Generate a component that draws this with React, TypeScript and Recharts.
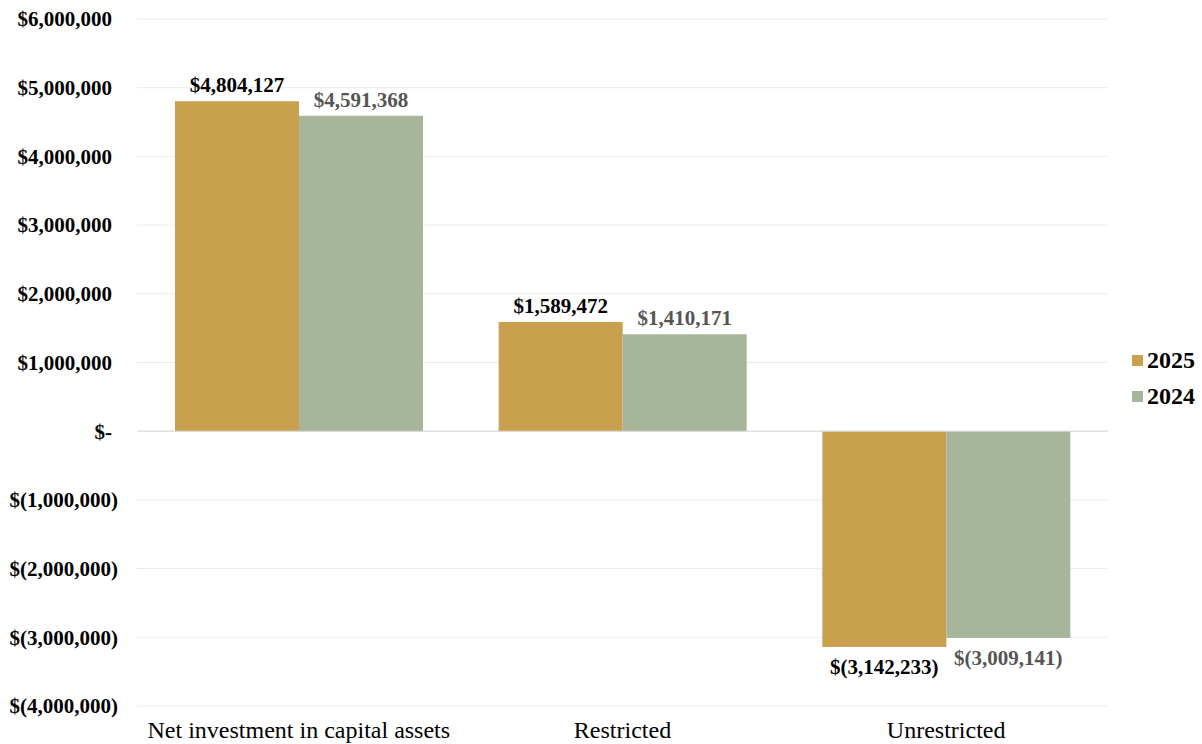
import { Bar, BarChart, CartesianGrid, LabelList, Legend, ReferenceLine, XAxis, YAxis } from "recharts";

const categories = ["Net investment in capital assets", "Restricted", "Unrestricted"];
const values2025 = [4804127, 1589472, -3142233];
const values2024 = [4591368, 1410171, -3009141];
const yTicks = [-4000000, -3000000, -2000000, -1000000, 0, 1000000, 2000000, 3000000, 4000000, 5000000, 6000000];

const data = categories.map((name, i) => ({
  name,
  y2025: values2025[i],
  y2024: values2024[i],
}));

const FONT = '"Liberation Serif", "Times New Roman", serif';

const money = (v: number) => {
  if (v === 0) return "$-";
  const s = Math.abs(v).toLocaleString("en-US");
  return v < 0 ? `$(${s})` : `$${s}`;
};

// accounting style: positive numbers leave room for the ")"
const YTick = (props: any) => {
  const { x, y, payload } = props;
  const v = payload.value;
  return (
    <text
      x={v < 0 ? x : x - 6}
      y={y}
      dy="0.35em"
      textAnchor="end"
      fill="#000"
      fontFamily={FONT}
      fontWeight="bold"
      fontSize={21}
    >
      {money(v)}
    </text>
  );
};

const makeLabel = (color: string) => (props: any) => {
  const { x, y, width, height, value } = props;
  const top = Math.min(y, y + height);
  const bottom = Math.max(y, y + height);
  const neg = value < 0;
  return (
    <text
      x={x + width / 2}
      y={neg ? bottom + 27 : top - 9}
      textAnchor="middle"
      fill={color}
      fontFamily={FONT}
      fontWeight="bold"
      fontSize={21}
    >
      {money(value)}
    </text>
  );
};

const LegendBox = (props: any) => {
  const items = [...(props.payload || [])].sort(
    (a: any, b: any) => Number(b.value) - Number(a.value)
  );
  return (
    <div style={{ fontFamily: FONT, fontWeight: "bold", fontSize: 24, color: "#000" }}>
      {items.map((it: any) => (
        <div key={it.value} style={{ display: "flex", alignItems: "center", height: 36 }}>
          <span style={{ width: 11, height: 11, background: it.color, marginRight: 4, display: "inline-block" }} />
          <span>{it.value}</span>
        </div>
      ))}
    </div>
  );
};

export default function App() {
  return (
    <div style={{ position: "absolute", left: 0, top: 0, background: "#fff" }}>
      <BarChart
        width={1202}
        height={744}
        data={data}
        margin={{ top: 19, right: 24, bottom: 0, left: 0 }}
        barGap={0}
        barSize={124}
      >
        <CartesianGrid vertical={false} stroke="#ebebeb" />
        <XAxis
          dataKey="name"
          axisLine={false}
          tickLine={false}
          height={38}
          tickMargin={9}
          tick={{ fill: "#000", fontFamily: FONT, fontSize: 24 }}
        />
        <YAxis
          domain={[-4000000, 6000000]}
          ticks={yTicks}
          interval={0}
          width={137}
          axisLine={false}
          tickLine={false}
          tickMargin={13}
          tick={<YTick />}
        />
        <ReferenceLine y={0} stroke="#d9d9d9" />
        <Legend
          layout="vertical"
          align="right"
          verticalAlign="middle"
          content={<LegendBox />}
          wrapperStyle={{ width: 70, top: 342, left: 1132, right: "auto" }}
        />
        <Bar dataKey="y2025" name="2025" fill="#C8A04E" isAnimationActive={false}>
          <LabelList dataKey="y2025" content={makeLabel("#000")} />
        </Bar>
        <Bar dataKey="y2024" name="2024" fill="#A7B59B" isAnimationActive={false}>
          <LabelList dataKey="y2024" content={makeLabel("#555")} />
        </Bar>
      </BarChart>
    </div>
  );
}
